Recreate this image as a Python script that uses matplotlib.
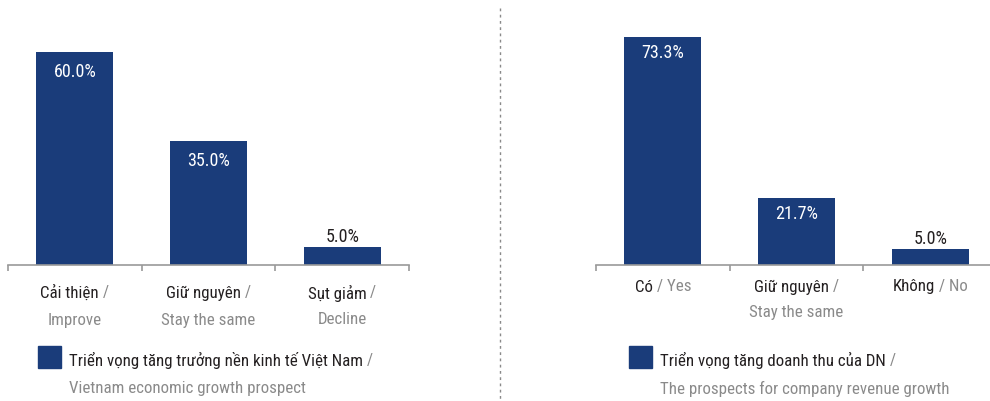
import matplotlib
matplotlib.use("Agg")
import matplotlib.pyplot as plt
from matplotlib.transforms import IdentityTransform
from matplotlib.patches import Rectangle
from matplotlib.lines import Line2D

plt.rcParams['font.family'] = ['Roboto Condensed', 'DejaVu Sans']

# economy outlook
econ_vi = ["Cải thiện", "Giữ nguyên", "Sụt giảm"]
econ_en = ["Improve", "Stay the same", "Decline"]
econ_values = [60.0, 35.0, 5.0]
econ_legend = ["Triển vọng tăng trưởng nền kinh tế Việt Nam", "Vietnam economic growth prospect"]

# company revenue outlook
rev_vi = ["Có", "Giữ nguyên", "Không"]
rev_en = ["Yes", "Stay the same", "No"]
rev_values = [73.3, 21.7, 5.0]
rev_legend = ["Triển vọng tăng doanh thu của DN", "The prospects for company revenue growth"]

BAR = "#1a3c7a"
DARK = "#231f20"
GRAY = "#8a8a8a"
AXIS = "#9a9a9a"
W, H = 990, 401
FS = 12.2       # category and legend text
FS_VAL = 13     # percentages on the bars

fig = plt.figure(figsize=(W / 100, H / 100), dpi=100)
fig.patch.set_facecolor("white")
px = IdentityTransform()


def rich_line(x, y, parts, ha="center"):
    # place coloured text pieces side by side, y measured from the top
    texts = [fig.text(0, 0, s, color=c, fontsize=FS, va="center", ha="left",
                      transform=px) for s, c in parts]
    r = fig.canvas.get_renderer()
    widths = [t.get_window_extent(r).width for t in texts]
    x0 = x - sum(widths) / 2 if ha == "center" else x
    for t, w in zip(texts, widths):
        t.set_position((x0, H - y))
        x0 += w


def panel(left_px, values, vi, en, wrap, ymax, inner_off, line_y):
    ax = fig.add_axes([left_px / W, (H - 265) / H, 401 / W, 245 / H])
    x = range(len(values))
    ax.bar(x, values, width=0.575, color=BAR, zorder=2)
    ax.set_xlim(-0.5, len(values) - 0.5)
    ax.set_ylim(0, ymax)
    for s in ["top", "right", "left"]:
        ax.spines[s].set_visible(False)
    ax.spines["bottom"].set_color(AXIS)
    ax.spines["bottom"].set_linewidth(1.2)
    ax.set_yticks([])
    ax.set_xticks([])
    ax.set_xticks([i - 0.5 for i in range(len(values) + 1)], minor=True)
    ax.tick_params(axis="x", which="minor", length=4, width=1.2, color=AXIS)

    for i, v in enumerate(values):
        if v > 10:
            ax.annotate(f"{v:.1f}%", (i, v), xytext=(0, -inner_off),
                        textcoords="offset pixels", ha="center", va="center",
                        color="white", fontsize=FS_VAL)
        else:
            ax.annotate(f"{v:.1f}%", (i, v), xytext=(0, 10),
                        textcoords="offset pixels", ha="center", va="center",
                        color=DARK, fontsize=FS_VAL)

    for i in range(len(values)):
        cx = ax.transData.transform((i, 0))[0]
        if wrap[i]:
            rich_line(cx, line_y[0], [(vi[i], DARK), (" /", GRAY)])
            rich_line(cx, line_y[1], [(en[i], GRAY)])
        else:
            rich_line(cx, line_y[0], [(vi[i], DARK), (" / " + en[i], GRAY)])
    return ax


panel(8, econ_values, econ_vi, econ_en, [True, True, True], 69, 20, (293, 320))
panel(596, rev_values, rev_vi, rev_en, [False, True, False], 78.8, 16, (287, 312))


def legend(x, lines):
    fig.patches.append(Rectangle((x, H - 368), 23, 22, color=BAR, transform=px))
    rich_line(x + 31, 360, [(lines[0], DARK), (" /", GRAY)], ha="left")
    rich_line(x + 31, 389, [(lines[1], GRAY)], ha="left")


legend(38, econ_legend)
legend(629, rev_legend)

# divider between the two charts
fig.add_artist(Line2D([500, 500], [H - 8, H - 400], transform=px,
                      color="#8a8a8a", linewidth=1, linestyle=(0, (2, 2.5))))

fig.savefig("out.png", dpi=100)
